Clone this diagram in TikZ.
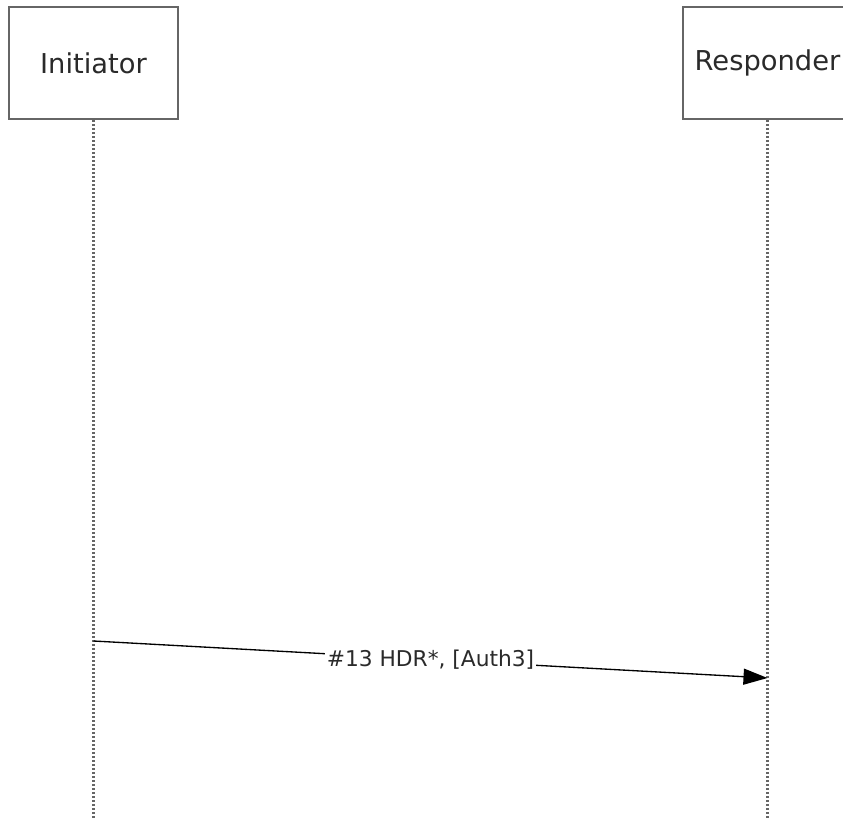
\documentclass[tikz,border=0pt]{standalone}
\usepackage{fontspec}
\setmainfont{DejaVu Sans}
\usetikzlibrary{arrows.meta}
\definecolor{boxgray}{HTML}{666666}
\definecolor{txtgray}{HTML}{2A2A2A}
\begin{document}
\begin{tikzpicture}[x=0.75pt,y=-0.75pt,
  actor/.style={draw=boxgray,line width=2pt,fill=white,minimum width=169*0.75pt,minimum height=112*0.75pt,inner sep=0pt,text=txtgray,font=\fontsize{20.5pt}{24pt}\selectfont},
  lifeline/.style={draw=boxgray,line width=2pt,dash pattern=on 1.6pt off 1.4pt},
  msg/.style={draw=black,line width=1pt,-{Triangle[length=18pt,width=12pt]}},
  msglabel/.style={fill=white,inner sep=1pt,text=txtgray,font=\fontsize{16.3pt}{19pt}\selectfont}]
\useasboundingbox (0,0) rectangle (843,820);
\begin{scope}
\clip (0,0) rectangle (843,820);
\node[actor] (init) at (93.5,63) {Initiator};
\node[actor] (resp) at (767.5,63) {Responder};
\coordinate (initend) at (93.5,822);
\coordinate (respend) at (767.5,822);
\draw[lifeline] (init.south) -- (initend);
\draw[lifeline] (resp.south) -- (respend);
\coordinate (a) at (93.5,641);
\coordinate (b) at (767.5,678);
\draw[msg] (a) -- (b) node[msglabel,midway] (lbl) {\#13 HDR*, [Auth3]};
\end{scope}
\end{tikzpicture}
\end{document}
